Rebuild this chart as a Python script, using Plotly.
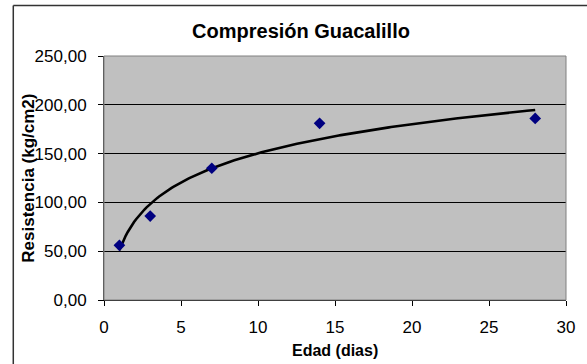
import numpy as np
import plotly.graph_objects as go

edad = [1, 3, 7, 14, 28]
resistencia = [56, 86, 135, 181, 186]
y_ticks = [0, 50, 100, 150, 200, 250]
y_tick_labels = ["0,00", "50,00", "100,00", "150,00", "200,00", "250,00"]
x_ticks = [0, 5, 10, 15, 20, 25, 30]

# logarithmic trendline fitted from the data (as in the spreadsheet)
a, b = np.polyfit(np.log(edad), resistencia, 1)
xt = np.linspace(min(edad), max(edad), 200)
yt = a * np.log(xt) + b

W, H = 587, 364
L, R, T, B = 104, 17, 56, 64
pw, ph = W - L - R, H - T - B

def px_x(x):
    return (x - L) / pw

def px_y(y):
    return (H - B - y) / ph

FONT = "Liberation Sans, Arial"

fig = go.Figure()
fig.add_trace(go.Scatter(x=xt, y=yt, mode="lines",
                         line=dict(color="black", width=2.6), hoverinfo="skip"))
fig.add_trace(go.Scatter(x=edad, y=resistencia, mode="markers",
                         marker=dict(symbol="diamond", size=9, color="#000080")))

fig.update_layout(
    width=W, height=H,
    margin=dict(l=L, r=R, t=T, b=B),
    paper_bgcolor="white", plot_bgcolor="#C0C0C0",
    showlegend=False,
    font=dict(family=FONT, color="black"),
    title=dict(text="<b>Compresión Guacalillo</b>", x=301 / W, xanchor="center",
               y=1 - 31 / H, yanchor="middle", font=dict(size=20)),
    xaxis=dict(range=[0, 30], tickvals=x_ticks, ticks="outside", ticklen=5,
               tickcolor="black", showgrid=False, zeroline=False,
               showline=True, linecolor="black", linewidth=1, mirror=False,
               tickfont=dict(size=17), ticklabelstandoff=7),
    yaxis=dict(range=[0, 250], tickvals=y_ticks, ticktext=y_tick_labels,
               ticks="outside", ticklen=5, tickcolor="black",
               showgrid=True, gridcolor="black", gridwidth=1, zeroline=False,
               showline=True, linecolor="#404040", linewidth=1,
               tickfont=dict(size=17), ticklabelstandoff=8),
    annotations=[
        dict(text="<b>Edad (dias)</b>", xref="paper", yref="paper",
             x=px_x(337), y=px_y(350), xanchor="center", yanchor="middle",
             showarrow=False, font=dict(size=16)),
        dict(text="<b>Resistencia (kg/cm2)</b>", xref="paper", yref="paper",
             x=px_x(27), y=px_y(178), xanchor="center", yanchor="middle",
             textangle=-90, showarrow=False, font=dict(size=17)),
    ],
    shapes=[
        # plot area frame (top/right)
        dict(type="rect", xref="paper", yref="paper", x0=0, y0=0, x1=1, y1=1,
             line=dict(color="#808080", width=1), layer="above"),
        # chart outer border (cropped on right and bottom)
        dict(type="line", xref="paper", yref="paper", x0=px_x(12.5), x1=px_x(600),
             y0=px_y(5.5), y1=px_y(5.5), line=dict(color="#333333", width=1.5)),
        dict(type="line", xref="paper", yref="paper", x0=px_x(12.5), x1=px_x(12.5),
             y0=px_y(5.5), y1=px_y(380), line=dict(color="#333333", width=1.5)),
    ],
)

fig.write_html("out.html")
